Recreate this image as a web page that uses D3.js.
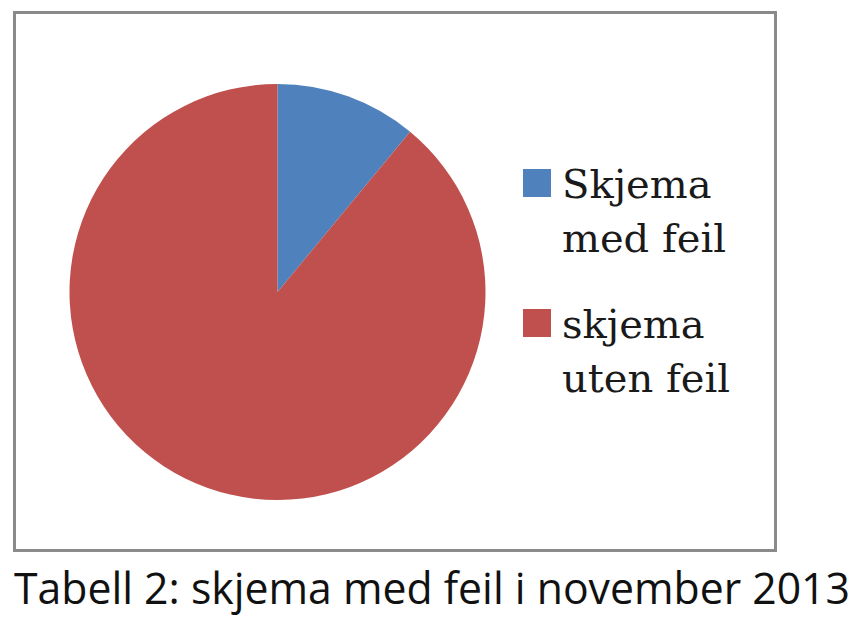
<!DOCTYPE html>
<html lang="no">
<head>
    <meta charset="UTF-8">
    <title>Skjema med feil</title>
    <script src="https://cdn.jsdelivr.net/npm/d3@7"></script>
    <style>
        body { margin: 0; background: #fff; }
    </style>
</head>
<body>
<script>
    // data
    const labels = ["Skjema med feil", "skjema uten feil"];
    const legendLines = [["Skjema", "med feil"], ["skjema", "uten feil"]];
    const values = [11, 89];
    const colors = ["#4f81bd", "#c0504d"];
    const caption = "Tabell 2: skjema med feil i november 2013";

    const w = 857, h = 622;

    const svg = d3.select("body").append("svg")
        .attr("width", w)
        .attr("height", h);

    // ramme
    svg.append("rect")
        .attr("x", 14.5).attr("y", 12.5)
        .attr("width", 761).attr("height", 538)
        .attr("fill", "#fff")
        .attr("stroke", "#8a8a8a")
        .attr("stroke-width", 3);

    const cx = 277.5, cy = 292, r = 208;

    const pie = d3.pie().sort(null)(values);
    const arc = d3.arc().innerRadius(0).outerRadius(r);

    const g = svg.append("g").attr("transform", "translate(" + cx + "," + cy + ")");
    g.selectAll("path")
        .data(pie)
        .enter()
        .append("path")
        .attr("d", arc)
        .attr("fill", function (d, i) { return colors[i]; });

    // legend
    const color = d3.scaleOrdinal().domain(labels).range(colors);
    const ly = d3.scaleOrdinal().domain(labels).range([198, 338]);

    const leg = svg.selectAll(".leg")
        .data(labels)
        .enter()
        .append("g")
        .attr("class", "leg");

    leg.append("rect")
        .attr("x", 523)
        .attr("y", function (d) { return ly(d) - 29; })
        .attr("width", 28).attr("height", 28)
        .attr("fill", function (d) { return color(d); });

    leg.append("text")
        .attr("font-family", "DejaVu Serif, serif")
        .attr("font-size", "40px")
        .attr("fill", "#1a1a1a")
        .selectAll("tspan")
        .data(function (d, i) { return legendLines[i]; })
        .enter()
        .append("tspan")
        .attr("x", 562)
        .attr("dy", function (d, i) { return i === 0 ? 0 : 54; })
        .text(function (d) { return d; });

    leg.select("text").attr("y", function (d) { return ly(d); });

    svg.append("text")
        .attr("x", 14)
        .attr("y", 604)
        .attr("font-family", "Open Sans, sans-serif")
        .attr("font-size", "43px")
        .attr("fill", "#111")
        .attr("textLength", 836)
        .attr("lengthAdjust", "spacingAndGlyphs")
        .text(caption);
</script>
</body>
</html>
